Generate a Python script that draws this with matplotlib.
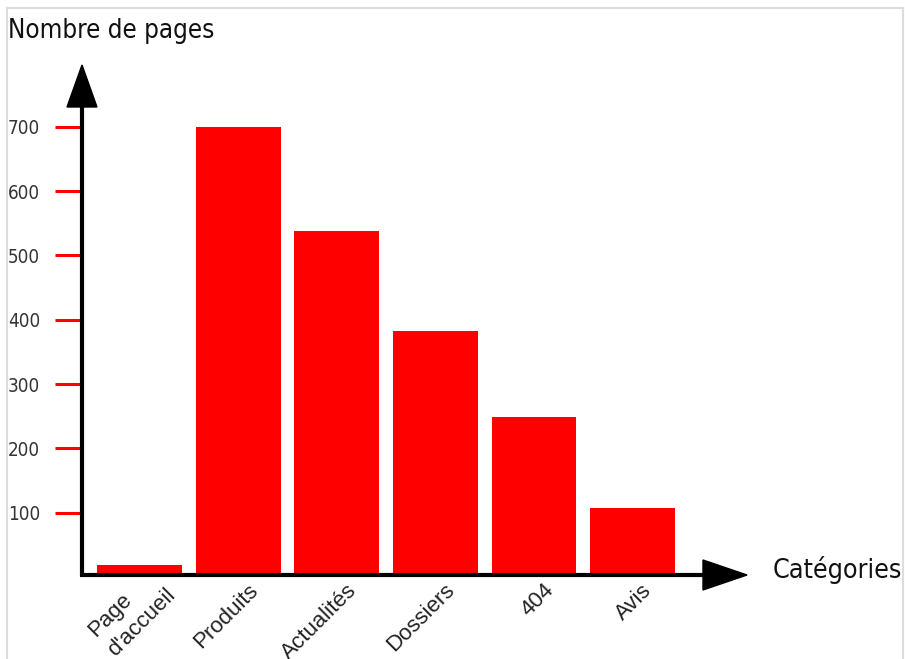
import matplotlib
matplotlib.use("Agg")
import matplotlib.pyplot as plt
from matplotlib.patches import Polygon
from matplotlib.lines import Line2D
from matplotlib.transforms import ScaledTranslation
from matplotlib import font_manager

categories = ["Page\nd'accueil", "Produits", "Actualités", "Dossiers", "404", "Avis"]
values = [18, 700, 538, 383, 248, 108]
yticks = [100, 200, 300, 400, 500, 600, 700]

W, H = 905, 659
fig = plt.figure(figsize=(W / 100, H / 100), dpi=100)

names = {f.name for f in font_manager.fontManager.ttflist}
cond = 'Liberation Sans Narrow' if 'Liberation Sans Narrow' in names else 'DejaVu Sans'

def fx(px):
    return px / W

def fy(py):
    return 1 - py / H

x0, x1, ytop, ybot = 82, 747, 65, 577
ax = fig.add_axes([fx(x0), fy(ybot), fx(x1) - fx(x0), fy(ytop) - fy(ybot)])
xs = list(range(len(categories)))
ax.bar(xs, values, width=0.86, color='#ff0000', zorder=2)
ax.set_xlim(-0.585, 6.16)
ax.set_ylim(0, 796)
for s in ax.spines.values():
    s.set_visible(False)
ax.set_yticks(yticks)
ax.set_yticklabels([str(v) for v in yticks], fontfamily=cond, fontstretch='condensed',
                   fontsize=13.5, color='#333333')
ax.tick_params(axis='y', length=19.5, width=2.2, color='#ff0000', pad=10.5)
ax.set_xticks(xs)
ax.set_xticklabels(categories, rotation=45, ha='right', va='top', rotation_mode='anchor',
                   fontsize=16, color='#222222', fontfamily='Liberation Sans', linespacing=1.4,
                   multialignment='left')
ax.tick_params(axis='x', length=0, pad=2)
for lab in ax.get_xticklabels():
    multi = '\n' in lab.get_text()
    off = ScaledTranslation(0.06 if multi else 0.09, 0.15 if multi else 0.0, fig.dpi_scale_trans)
    lab.set_transform(lab.get_transform() + off)

# axes lines with arrowheads
lw = 3
fig.add_artist(Line2D([fx(82), fx(82)], [fy(576), fy(100)], color='black', lw=lw,
                      solid_capstyle='butt'))
fig.add_artist(Line2D([fx(80), fx(710)], [fy(575), fy(575)], color='black', lw=lw,
                      solid_capstyle='butt'))
fig.add_artist(Polygon([[fx(67), fy(107)], [fx(97), fy(107)], [fx(82), fy(65)]],
                       closed=True, color='black', transform=fig.transFigure))
fig.add_artist(Polygon([[fx(703), fy(560)], [fx(703), fy(590)], [fx(747), fy(575)]],
                       closed=True, color='black', transform=fig.transFigure))

# border
for xa, ya in [([fx(7), fx(903)], [fy(8), fy(8)]), ([fx(7), fx(7)], [fy(8), 0]),
               ([fx(903), fx(903)], [fy(8), 0])]:
    fig.add_artist(Line2D(xa, ya, color='#dddddd', lw=1.5))

renderer = fig.canvas.get_renderer()

def fit_text(xpx, ypx, s, target_w, base=25):
    t = fig.text(fx(xpx), fy(ypx), s, fontfamily=cond, fontstretch='condensed',
                 fontsize=base, color='#111111', ha='left', va='baseline')
    w = t.get_window_extent(renderer).width
    t.set_fontsize(base * target_w / w)
    return t

fit_text(8, 38, "Nombre de pages", 207)
fit_text(773, 578, "Catégories", 130)

fig.savefig("out.png", dpi=100)
